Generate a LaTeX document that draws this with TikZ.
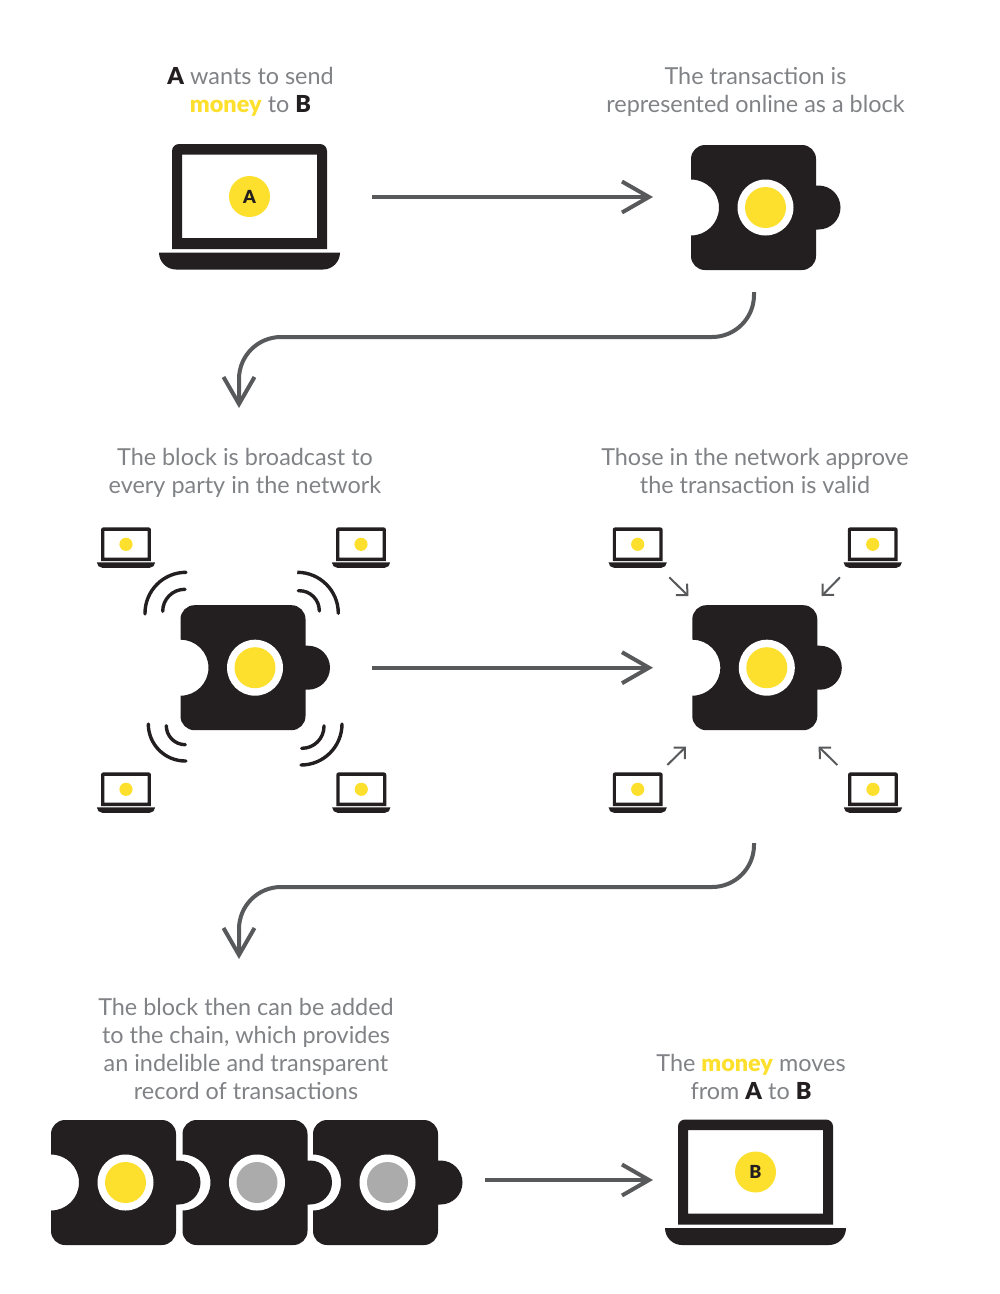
\documentclass[tikz,border=0pt]{standalone}
\usepackage{fontspec}
\setmainfont{Lato}[BoldFont={Lato Black}]
\usetikzlibrary{arrows.meta}

\definecolor{ink}{HTML}{231F20}
\definecolor{sun}{HTML}{FDDF2D}
\definecolor{ash}{HTML}{ABABAB}
\definecolor{flowgrey}{HTML}{58595B}
\definecolor{textgrey}{HTML}{808285}

\tikzset{
	pics/puzzle/.style={code={
		\tikzset{y=1pt}
		\coordinate (-c) at (0,0);
		\fill[ink] (-62.5,28) -- (-62.5,48.5) arc (180:90:14) -- (48.5,62.5) arc (90:0:14)
			-- (62.5,22) -- (65,22) arc (90:-90:22) -- (62.5,-22) -- (62.5,-48.5) arc (0:-90:14)
			-- (-48.5,-62.5) arc (-90:-180:14) -- (-62.5,-28) arc (-90:90:28) -- cycle;
		\fill[white] (12,0) circle (28);
		\fill[#1] (12,0) circle (20.5);
	}},
	pics/laptop/.style={code={
		\tikzset{y=1pt}
		\coordinate (-c) at (0,0);
		\fill[ink,even odd rule] (-77.5,-52.5) -- (-77.5,45.5) arc (180:90:7) -- (70.5,52.5) arc (90:0:7)
			-- (77.5,-52.5) -- cycle (-67.5,-41.5) rectangle (67.5,42);
		\fill[ink] (-90.5,-56) arc (180:270:17) -- (73.5,-73) arc (270:360:17) -- cycle;
		\fill[sun] (0,0) circle (20.5);
	}}
}

\begin{document}
\begin{tikzpicture}[x=1pt,y=-1pt,
		every node/.style={font=\fontsize{23.4}{28.3}\selectfont,text=textgrey,align=center},
		dotlabel/.style={font=\fontsize{18}{18}\selectfont\bfseries,text=ink},
		flow/.style={draw=flowgrey,line width=4pt,-{Straight Barb[length=27pt,width=31pt,line width=4pt]}},
		pinglink/.style={draw=flowgrey,line width=2pt,-{Straight Barb[length=8pt,width=16pt,line width=2pt]}},
		wave/.style={draw=ink,line width=3.4pt,line cap=round}]
	
	\useasboundingbox (0,0) rectangle (1000,1294);
	
	% Captions
	\node (capA) at (250.5,92) {\textcolor{ink}{\textbf{A}} wants to send\\\textcolor{sun}{\textbf{money}} to \textcolor{ink}{\textbf{B}}};
	\node (capB) at (755.5,92) {The transaction is\\represented online as a block};
	\node (capC) at (245,473) {The block is broadcast to\\every party in the network};
	\node (capD) at (755,471) {Those in the network approve\\the transaction is valid};
	\node (capE) at (246,1049) {The block then can be added\\to the chain, which provides\\an indelible and transparent\\record of transactions};
	\node (capF) at (751,1077) {The \textcolor{sun}{\textbf{money}} moves\\from \textcolor{ink}{\textbf{A}} to \textcolor{ink}{\textbf{B}}};
	
	% Big laptops of the sender and the receiver
	\pic (lapA) at (249.5,196.5) {laptop};
	\node[dotlabel] (lblA) at (lapA-c) {A};
	\pic (lapB) at (755.5,1172) {laptop};
	\node[dotlabel] (lblB) at (lapB-c) {B};
	
	% Single blocks
	\pic (blockB) at (753.5,207.5) {puzzle=sun};
	\pic (blockC) at (243,667.7) {puzzle=sun};
	\pic (blockD) at (754.8,667.7) {puzzle=sun};
	
	% Chain of blocks, each tab lies in the notch of the next one
	\foreach \n/\x/\col in {A/113.5/sun,B/245/ash,C/375.5/ash}{
		\pic (chain\n) at (\x,1182.5) {puzzle=\col};
	}
	
	% Small laptops around the two middle blocks
	\foreach \n/\x/\y in {Cnw/126/544.3,Cne/361/544.3,Csw/126/789.3,Cse/361.3/789.3,
		Dnw/637.7/544.3,Dne/872.7/544.3,Dsw/637.7/789.3,Dse/873/789.3}{
		\pic[scale=.322] (lap\n) at (\x,\y) {laptop};
	}
	
	% Broadcast waves at the corners of the block
	\foreach \xa/\ya/\xb/\yb/\r in {145/614/186/572.3/41,162.7/611.3/185/589.3/22,
		338.3/613.3/297.7/572.3/41,319.3/611/298.3/590.7/20,
		148.3/724/186/761/37,166.3/725.7/185.3/744.7/19,
		342/724/301/765/41,324/725.7/301.7/748.3/22}{
		\draw[wave,rounded corners=\r pt] (\xa,\ya) |- (\xb,\yb);
	}
	
	% Straight arrows
	\draw[flow,shorten <=122.5pt,shorten >=100.5pt] ([yshift=-.5pt]lapA-c) -- ([yshift=10.5pt]blockB-c);
	\draw[flow,shorten <=129pt,shorten >=101.8pt] (blockC-c) -- (blockD-c);
	\draw[flow,shorten <=109.5pt,shorten >=102.5pt] ([yshift=2.5pt]chainC-c) -- ([yshift=-8pt]lapB-c);
	
	% Curved arrows between the rows
	\coordinate (downA) at (754,292);
	\coordinate (midA) at (500,337);
	\coordinate (endA) at (239,408);
	\draw[flow,rounded corners=42pt] (downA) |- (midA) -| (endA);
	\coordinate (downB) at (754,843);
	\coordinate (midB) at (500,887);
	\coordinate (endB) at (239,959);
	\draw[flow,rounded corners=42pt] (downB) |- (midB) -| (endB);
	
	% Approvals coming in from the small laptops
	\foreach \n/\sx/\sy/\ex/\ey in {nw/31.6/-33/-66.5/71.7,ne/-32.7/-33/66.9/71.7,
		sw/29.6/24.3/-68.8/-79,se/-35.7/24.3/63.9/-79}{
		\draw[pinglink] ([xshift=\sx pt,yshift=\sy pt]lapD\n-c) -- ([xshift=\ex pt,yshift=\ey pt]blockD-c);
	}
	
\end{tikzpicture}
\end{document}
